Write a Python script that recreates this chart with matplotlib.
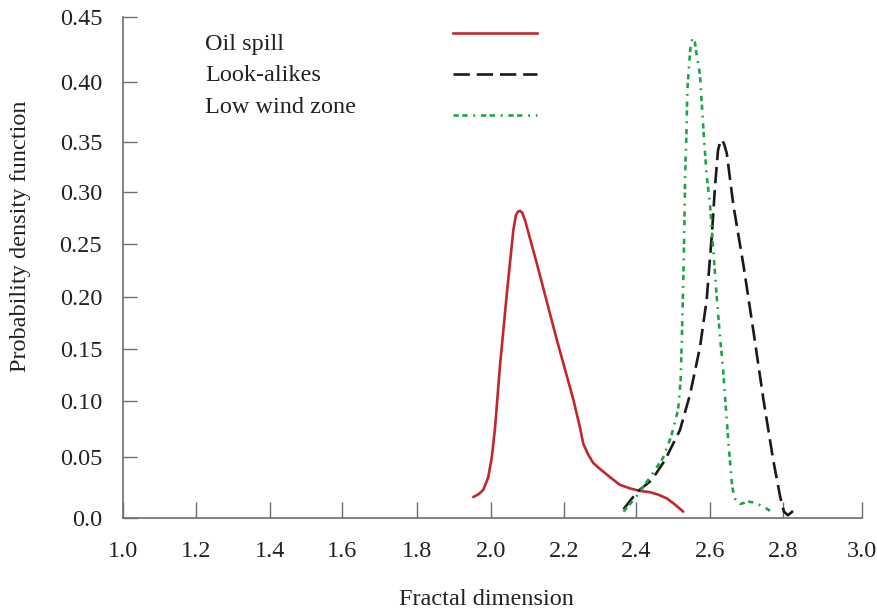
import numpy as np
import matplotlib
matplotlib.use("Agg")
import matplotlib.pyplot as plt
from matplotlib.lines import Line2D

plt.rcParams["font.family"] = ["Liberation Serif", "DejaVu Serif"]

# ---- data -------------------------------------------------------------
oil_x = [1.953, 1.968, 1.980, 1.993, 2.003, 2.012, 2.025, 2.044, 2.062, 2.069,
         2.075, 2.080, 2.086, 2.094, 2.126, 2.181, 2.227, 2.246, 2.254, 2.268,
         2.282, 2.301, 2.330, 2.356, 2.385, 2.412, 2.438, 2.460, 2.483, 2.505, 2.528]
oil_y = [0.017, 0.0195, 0.023, 0.033, 0.050, 0.077, 0.133, 0.203, 0.264, 0.278,
         0.2815, 0.282, 0.2805, 0.273, 0.232, 0.159, 0.101, 0.075, 0.062, 0.052,
         0.045, 0.040, 0.033, 0.027, 0.024, 0.022, 0.021, 0.019, 0.016, 0.011, 0.005]

look_x = [2.366, 2.403, 2.443, 2.479, 2.519, 2.546, 2.573, 2.591, 2.605, 2.614,
          2.622, 2.630, 2.638, 2.646, 2.664, 2.692, 2.719, 2.747, 2.774, 2.793,
          2.803, 2.813, 2.826]
look_y = [0.007, 0.021, 0.031, 0.0475, 0.074, 0.106, 0.152, 0.197, 0.259, 0.307,
          0.342, 0.352, 0.349, 0.339, 0.288, 0.230, 0.168, 0.101, 0.047, 0.017,
          0.005, 0.002, 0.0055]

wind_x = [2.366, 2.403, 2.438, 2.473, 2.495, 2.514, 2.521, 2.524, 2.528, 2.531,
          2.533, 2.536, 2.539, 2.545, 2.548, 2.553, 2.559, 2.563, 2.569, 2.573,
          2.578, 2.584, 2.591, 2.600, 2.609, 2.618, 2.627, 2.636, 2.644, 2.650,
          2.660, 2.666, 2.674, 2.682, 2.693, 2.705, 2.720, 2.737, 2.753, 2.770]
wind_y = [0.005, 0.018, 0.033, 0.049, 0.068, 0.092, 0.120, 0.159, 0.216, 0.2685,
          0.317, 0.352, 0.3935, 0.4185, 0.4285, 0.434, 0.431, 0.423, 0.413, 0.4055,
          0.381, 0.352, 0.317, 0.288, 0.2446, 0.2017, 0.1636, 0.130, 0.092, 0.065,
          0.0285, 0.017, 0.0129, 0.0113, 0.0121, 0.0132, 0.0125, 0.0104, 0.008, 0.0047]

series_labels = ["Oil spill", "Look-alikes", "Low wind zone"]

x_ticks = [1.0, 1.2, 1.4, 1.6, 1.8, 2.0, 2.2, 2.4, 2.6, 2.8, 3.0]
x_tick_labels = ["1.0", "1.2", "1.4", "1.6", "1.8", "2.0", "2.2", "2.4", "2.6", "2.8", "3.0"]
y_ticks = [0.0, 0.05, 0.10, 0.15, 0.20, 0.25, 0.30, 0.35, 0.40, 0.45]
y_tick_labels = ["0.0", "0.05", "0.10", "0.15", "0.20", "0.25", "0.30", "0.35", "0.40", "0.45"]

# ---- hand-spaced axes: where each tick sits along its axis (0..1) ------
x_tick_frac = [0.0, 0.0992, 0.1994, 0.2969, 0.3973, 0.4978, 0.5966, 0.6941, 0.7946, 0.8931, 1.0]
y_tick_frac = [0.0, 0.1214, 0.2330, 0.3365, 0.4411, 0.5459, 0.6500, 0.7500, 0.8696, 1.0]


def warp(ticks, fracs):
    t = np.asarray(ticks, float)
    f = np.asarray(fracs, float)

    def fwd(v):
        return np.interp(v, t, f)

    def inv(u):
        return np.interp(u, f, t)

    return fwd, inv


# ---- figure -----------------------------------------------------------
fig = plt.figure(figsize=(8.77, 6.15), dpi=100)
ax = fig.add_axes([0.1403, 0.1582, 0.9826 - 0.1403, 0.9725 - 0.1582])

ax.set_xscale("function", functions=warp(x_ticks, x_tick_frac))
ax.set_yscale("function", functions=warp(y_ticks, y_tick_frac))
ax.set_xlim(1.0, 3.0)
ax.set_ylim(0.0, 0.45)

red = "#c1272d"
black = "#1a1a1a"
green = "#1fa34a"
lw = 1.9
fs = 17.5
text_col = "#222222"

styles = [
    dict(color=red, lw=lw, ls="-"),
    dict(color=black, lw=lw, ls=(0, (6.2, 2.6))),
    dict(color=green, lw=lw, ls=(0, (2.0, 1.3, 2.0, 2.2, 0.7, 2.2))),
]

for (xs, ys), st in zip([(oil_x, oil_y), (look_x, look_y), (wind_x, wind_y)], styles):
    ax.plot(xs, ys, clip_on=False, solid_capstyle="round", dash_capstyle="butt",
            solid_joinstyle="round", **st)

# spines and ticks
axis_grey = "#6e6e6e"
for side in ("top", "right"):
    ax.spines[side].set_visible(False)
for side in ("left", "bottom"):
    ax.spines[side].set_color(axis_grey)
    ax.spines[side].set_linewidth(1.2)

ax.set_xticks(x_ticks)
ax.set_xticklabels(x_tick_labels)
ax.set_yticks(y_ticks)
ax.set_yticklabels(y_tick_labels)
ax.minorticks_off()
ax.tick_params(axis="x", direction="in", length=11.5, width=1.0, color=axis_grey,
               pad=17, labelsize=fs, labelcolor=text_col)
ax.tick_params(axis="y", direction="in", length=9.8, width=1.0, color=axis_grey,
               pad=15, labelsize=fs, labelcolor=text_col)

ax.set_xlabel("Fractal dimension", fontsize=fs, color=text_col)
ax.xaxis.set_label_coords(0.4914, -0.142)
ax.set_ylabel("Probability density function", fontsize=fs, color=text_col)
ax.yaxis.set_label_coords(-0.124, 0.5625)

# key: labels on the left, line samples on the right
text_y = [0.9349, 0.8720, 0.8091]
key_y = [0.9673, 0.8860, 0.8035]
for label, ty, ky, st in zip(series_labels, text_y, key_y, styles):
    ax.text(0.111, ty, label, transform=ax.transAxes, fontsize=fs,
            va="baseline", ha="left", color=text_col)
    ax.add_line(Line2D([0.4471, 0.5600], [ky, ky], transform=ax.transAxes,
                       clip_on=False, dash_capstyle="butt", **st))

fig.savefig("out.png", dpi=100)
